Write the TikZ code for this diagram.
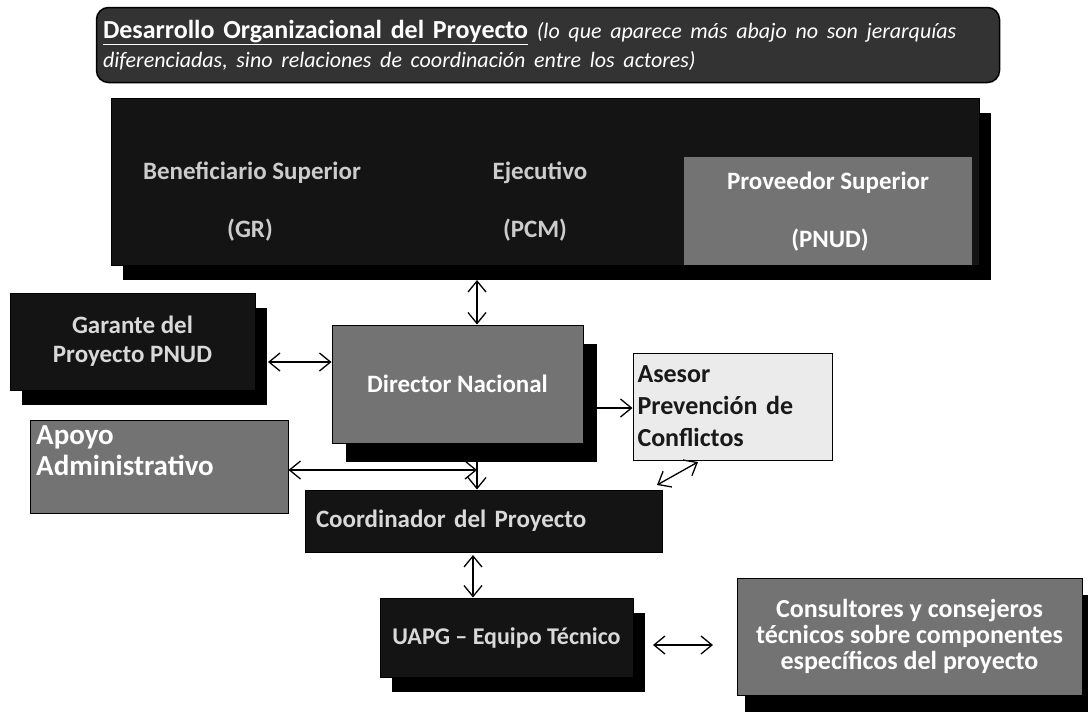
\documentclass[tikz,border=0pt]{standalone}
\usepackage{fontspec}
\setmainfont{Carlito}
\usepackage{tikz}
\usetikzlibrary{arrows.meta,shapes,shadows}
\tikzstyle{box}=[draw=black, line width=1pt, rectangle, inner sep=4pt, font=\fontsize{25}{29}\selectfont\bfseries]
\tikzstyle{dark box}=[box, fill=black!92, text=white!85!black]
\tikzstyle{gray box}=[box, fill=black!55, text=white]
\tikzstyle{light box}=[box, fill=black!8, text=black!90]
\tikzstyle{raised}=[drop shadow={shadow xshift=12pt, shadow yshift=-15pt, fill=black, opacity=1}]
\tikzstyle{note}=[draw=none, inner sep=0pt, align=center, font=\fontsize{25}{29}\selectfont\bfseries]
\tikzstyle{edge}=[draw, line width=1.3pt, {Straight Barb[length=11pt,width=18pt]}-{Straight Barb[length=11pt,width=18pt]}]
\tikzstyle{one way}=[draw, line width=1.3pt, -{Straight Barb[length=11pt,width=18pt]}]

\begin{document}
\begin{tikzpicture}[x=1pt, y=-1pt]
\useasboundingbox[fill=white] (0,0) rectangle (1088,721);
% header band
\node[dark box, fill=black!80, text=white, rounded corners=12pt, line width=1.5pt,
      minimum width=903pt, minimum height=75pt, text width=890pt, align=left,
      font=\fontsize{26}{29}\selectfont\bfseries] (head) at (548,45)
  {\underline{Desarrollo Organizacional del Proyecto} {\fontsize{22}{29}\selectfont\itshape\mdseries (lo que aparece más abajo no son jerarquías}\\
   {\fontsize{22}{29}\selectfont\itshape\mdseries diferenciadas, sino relaciones de coordinación entre los actores)}};

% project board
\node[dark box, raised, minimum width=868pt, minimum height=167pt] (board) at (545,181.5) {};
\node[gray box, draw=none, minimum width=288pt, minimum height=108pt] (prov) at (828,211) {};
\node[note, text=white!80!black] (benef) at (252,173) {Beneficiario Superior};
\node[note, text=white!80!black] (benefsub) at (250,230) {(GR)};
\node[note, text=white!80!black] (ejec) at (540,173) {Ejecutivo};
\node[note, text=white!80!black] (ejecsub) at (535,230) {(PCM)};
\node[note, text=white] (provname) at (828,183) {Proveedor Superior};
\node[note, text=white] (provsub) at (830,240) {(PNUD)};

% the other boxes
\node[dark box, raised, minimum width=245pt, minimum height=97pt, align=center] (garante) at (132.5,341.5) {Garante del\\Proyecto PNUD};
\node[gray box, drop shadow={shadow xshift=14pt, shadow yshift=-19pt, fill=black, opacity=1},
      minimum width=251pt, minimum height=118pt] (director) at (457.5,384) {Director Nacional};
\node[light box, minimum width=199pt, minimum height=107pt, text width=190pt, align=left,
      font=\fontsize{26}{32}\selectfont\bfseries] (asesor) at (732.5,406.5)
  {Asesor\\Prevención de\\Conflictos};
\node[gray box, minimum width=258pt, minimum height=93pt] (apoyo) at (159,466.5) {};
\node[note, text=white, align=left, anchor=north west, font=\fontsize{29}{31}\selectfont\bfseries] (apoyotext) at (36,425) {Apoyo\\Administrativo};
\node[dark box, minimum width=357pt, minimum height=62pt, text width=335pt, align=left] (coord) at (483.5,521)
  {Coordinador del Proyecto};
\node[dark box, raised, minimum width=253pt, minimum height=79pt, font=\fontsize{24}{28}\selectfont\bfseries] (uapg) at (506.5,637.5) {UAPG -- Equipo Técnico};
\node[gray box, drop shadow={shadow xshift=8pt, shadow yshift=-17pt, fill=black, opacity=1},
      minimum width=345pt, minimum height=117pt, align=center, font=\fontsize{26}{26}\selectfont\bfseries] (consult) at (909.5,636.5)
  {Consultores y consejeros\\técnicos sobre componentes\\específicos del proyecto};

% connector ends
\coordinate (spine) at (477,470);
\coordinate (board foot) at (477,280);
\coordinate (director head) at (director.north -| spine);
\coordinate (director foot) at (director.south -| spine);
\coordinate (coord head) at (coord.north -| spine);
\coordinate (apoyo out) at (apoyo.east |- spine);
\coordinate (garante out) at (268,362);
\coordinate (director in) at (director.west |- garante out);
\coordinate (director out) at (597,408);
\coordinate (asesor in) at (asesor.west |- director out);
\coordinate (asesor foot) at (698,462);
\coordinate (coord corner) at (657,485);
\coordinate (coord foot) at (473,555);
\coordinate (uapg head) at (uapg.north -| coord foot);
\coordinate (uapg out) at (653,645);
\coordinate (consult in) at (713,645);

\foreach \source/\dest in {
	board foot/director head,
	garante out/director in,
	apoyo out/spine,
	asesor foot/coord corner,
	coord foot/uapg head,
	uapg out/consult in}
\path[edge] (\source) -- (\dest);

\foreach \source/\dest in {
	director out/asesor in,
	director foot/coord head}
\path[one way] (\source) -- (\dest);

\end{tikzpicture}
\end{document}
